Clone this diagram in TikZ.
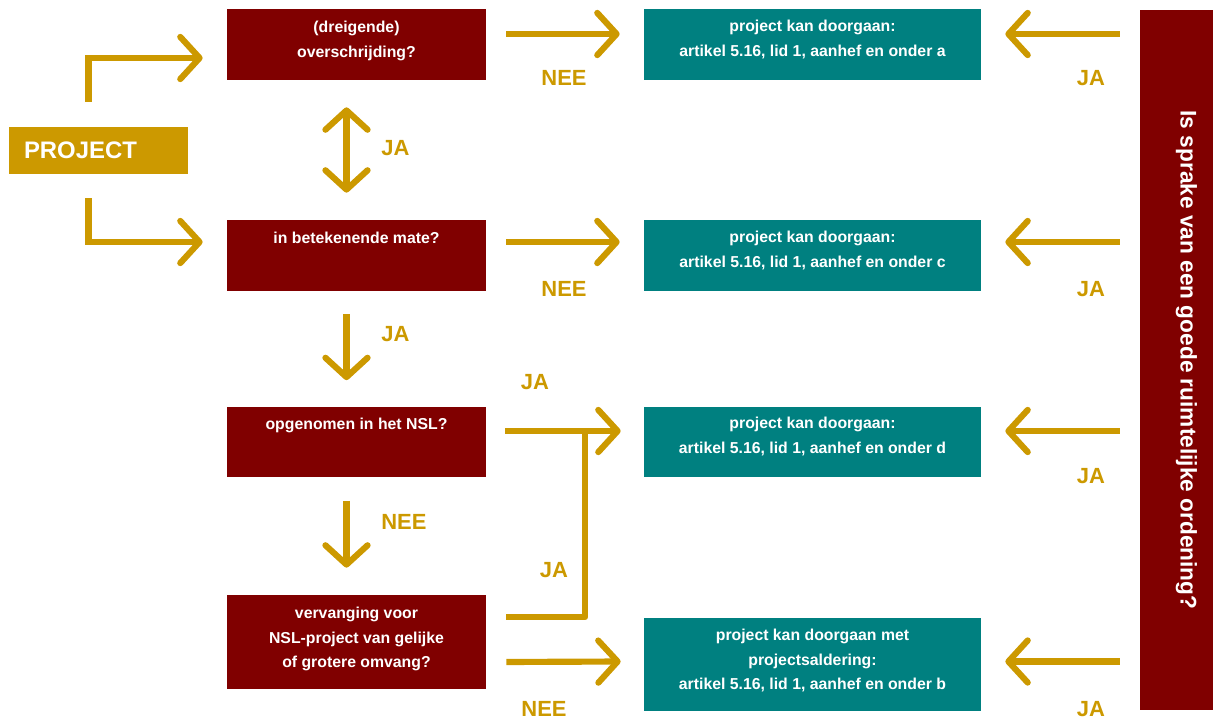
\documentclass[tikz,border=0pt]{standalone}
\usepackage{fontspec}
\setmainfont{Liberation Sans}
\usetikzlibrary{positioning, arrows.meta, calc}
\definecolor{gold}{HTML}{CC9900}
\definecolor{wine}{HTML}{800000}
\definecolor{sea}{HTML}{008080}

\begin{document}
\begin{tikzpicture}[x=0.02cm, y=-0.02cm,
    qbox/.style={fill=wine, minimum width=5.18cm, minimum height=1.42cm, inner sep=0},
    abox/.style={fill=sea, minimum width=6.74cm, minimum height=1.42cm, inner sep=0},
    boxtext/.style={text=white, anchor=north, inner sep=0, align=center,
                    font=\fontsize{9}{14}\selectfont\bfseries},
    lbl/.style={text=gold, inner sep=0, font=\fontsize{12.5}{15}\selectfont\bfseries},
    barb/.tip={Straight Barb[length=11pt, width=24pt, round]},
    flow/.style={draw=gold, line width=3.5pt, -barb},
    flowline/.style={draw=gold, line width=3.5pt, line join=round}]
  \useasboundingbox (0,0) rectangle (1215,720);

  % Start
  \node[fill=gold, minimum height=0.94cm, text width=2.98cm, inner xsep=0.3cm, inner ysep=0,
        text=white, font=\fontsize{13.6}{16}\selectfont\bfseries] (project) at (98.5,150.5) {PROJECT};

  % Questions
  \node[qbox] (q1) at (356.5,44.5) {};
  \node[qbox] (q2) at (356.5,255.5) {};
  \node[qbox] (q3) at (356.5,442) {};
  \node[qbox, minimum height=1.88cm] (q4) at (356.5,642) {};
  \node[boxtext] (q1t) at ($(q1.north)+(0,12)$) {(dreigende)\\overschrijding?};
  \node[boxtext] (q2t) at ($(q2.north)+(0,12)$) {in betekenende mate?};
  \node[boxtext] (q3t) at ($(q3.north)+(0,12)$) {opgenomen in het NSL?};
  \node[boxtext] (q4t) at ($(q4.north)+(0,12)$) {vervanging voor\\NSL-project van gelijke\\of grotere omvang?};

  % Outcomes
  \node[abox] (r1) at (812.5,44.5) {};
  \node[abox] (r2) at (812.5,255.5) {};
  \node[abox] (r3) at (812.5,442) {};
  \node[abox, minimum height=1.86cm] (r4) at (812.5,664.5) {};
  \node[boxtext] (r1t) at ($(r1.north)+(0,11)$) {project kan doorgaan:\\artikel 5.16, lid 1, aanhef en onder a};
  \node[boxtext] (r2t) at ($(r2.north)+(0,11)$) {project kan doorgaan:\\artikel 5.16, lid 1, aanhef en onder c};
  \node[boxtext] (r3t) at ($(r3.north)+(0,11)$) {project kan doorgaan:\\artikel 5.16, lid 1, aanhef en onder d};
  \node[boxtext] (r4t) at ($(r4.north)+(0,11)$) {project kan doorgaan met\\projectsaldering:\\artikel 5.16, lid 1, aanhef en onder b};

  % Side question
  \node[fill=wine, minimum width=1.46cm, minimum height=14cm, inner sep=0] (side) at (1176.5,360) {};
  \node[rotate=-90, text=white, inner sep=0, font=\fontsize{12.9}{15}\selectfont\bfseries]
    (sidet) at ($(side.center)+(10,0)$) {Is sprake van een goede ruimtelijke ordening?};

  % Arrows from the start
  \draw[flow] ($(project.north)+(-10,-25)$) |- ($(q1.west)+(-24,13.5)$);
  \draw[flow] ($(project.south)+(-10,24)$) |- ($(q2.west)+(-24,-13.5)$);

  % Arrows down the questions
  \draw[flow, barb-barb] ($(q1.south)+(-10,27)$) -- ($(q2.north)+(-10,-27)$);
  \draw[flow] ($(q2.south)+(-10,23)$) -- ($(q3.north)+(-10,-26)$);
  \draw[flow] ($(q3.south)+(-10,23)$) -- ($(q4.north)+(-10,-27)$);
  \node[lbl, anchor=west] (ja1) at (381,148) {JA};
  \node[lbl, anchor=west] (ja2) at (381,334) {JA};
  \node[lbl, anchor=west] (nee3) at (381,522) {NEE};

  % Arrows to the outcomes
  \draw[flow] ($(q1.east)+(20,-10.5)$) -- ($(r1.west)+(-24,-10.5)$);
  \draw[flow] ($(q2.east)+(20,-13.5)$) -- ($(r2.west)+(-24,-13.5)$);
  \draw[flow] ($(q3.east)+(19,-11)$) -- ($(r3.west)+(-23,-11)$);
  \draw[flow] ($(q4.east)+(20,20)$) -- ($(r4.west)+(-23,-3)$);
  \draw[flowline] ($(q4.east)+(20,-25)$) -| ($(q3.east)+(99,-11)$);
  \node[lbl] (nee1) at (564,78) {NEE};
  \node[lbl] (nee2) at (564,289) {NEE};
  \node[lbl] (ja3) at (535,382) {JA};
  \node[lbl] (ja4) at (554,570) {JA};
  \node[lbl] (nee4) at (544,709) {NEE};

  % Arrows from the side question
  \foreach \n/\dy in {r1/-10.5, r2/-13.5, r3/-11, r4/-3}
    \draw[flow] ($(side.west |- \n.east)+(-20,\dy)$) -- ($(\n.east)+(24,\dy)$);
  \foreach \y in {78, 289, 476, 709}
    \node[lbl] (side-ja-\y) at (1091,\y) {JA};
\end{tikzpicture}
\end{document}
